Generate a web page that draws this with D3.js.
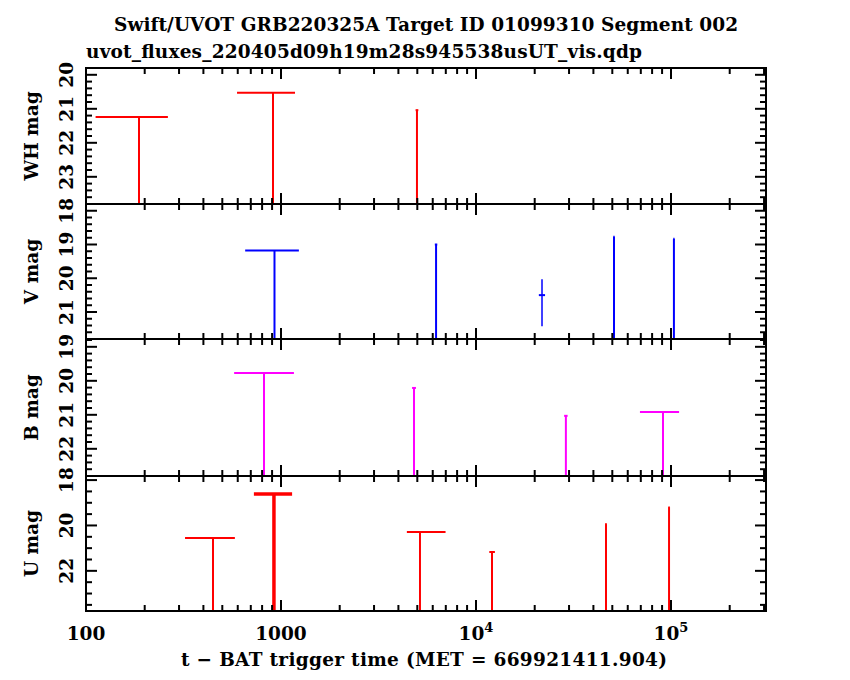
<!DOCTYPE html>
<html><head><meta charset="UTF-8">
<style>body{margin:0;background:#fff}text{font-family:"DejaVu Serif",serif;font-weight:bold}</style>
</head><body>
<svg id="c" width="850" height="680"></svg>
<script src="https://cdnjs.cloudflare.com/ajax/libs/d3/7.8.5/d3.min.js"></script>
<script>
"use strict"
// upper limits (lim=true) drawn as a bar at mag with a line down to the panel floor
const whData = [
  {t: 187, lo: 112, hi: 263, mag: 21.24, lim: true},
  {t: 910, lo: 595, hi: 1180, mag: 20.53, lim: true},
  {t: 4980, lo: 4900, hi: 5060, mag: 21.04, lim: true}
];
const vData = [
  {t: 926, lo: 655, hi: 1235, mag: 19.18, lim: true},
  {t: 6240, lo: 6150, hi: 6330, mag: 19.0, lim: true},
  {t: 21800, lo: 21000, hi: 22600, mag: 20.5, e1: 20.03, e2: 21.42, lim: false},
  {t: 51000, lo: 50600, hi: 51400, mag: 18.77, lim: true},
  {t: 103500, lo: 102800, hi: 104200, mag: 18.83, lim: true}
];
const bData = [
  {t: 818, lo: 575, hi: 1165, mag: 19.77, lim: true},
  {t: 4810, lo: 4700, hi: 4920, mag: 20.21, lim: true},
  {t: 28900, lo: 28300, hi: 29500, mag: 21.03, lim: true},
  {t: 91000, lo: 69300, hi: 110000, mag: 20.92, lim: true}
];
const uData = [
  {t: 448, lo: 322, hi: 580, mag: 20.55, lim: true},
  {t: 920, lo: 726, hi: 1140, mag: 18.61, lim: true, thick: true},
  {t: 5160, lo: 4420, hi: 6980, mag: 20.29, lim: true},
  {t: 12080, lo: 11700, hi: 12500, mag: 21.17, lim: true},
  {t: 46400, lo: 46000, hi: 46800, mag: 19.94, lim: true},
  {t: 97700, lo: 97200, hi: 98200, mag: 19.19, lim: true}
];
const panels = [
  {label: "WH mag", data: whData, color: "#ff0000", dom: [19.8, 23.8], top: 68, bot: 204, major: [20, 21, 22, 23], minor: 0.2},
  {label: "V mag", data: vData, color: "#0000ff", dom: [17.8, 21.8], top: 204, bot: 339, major: [18, 19, 20, 21], minor: 0.2},
  {label: "B mag", data: bData, color: "#ff00ff", dom: [18.77, 22.8], top: 339, bot: 476, major: [19, 20, 21, 22], minor: 0.2},
  {label: "U mag", data: uData, color: "#ff0000", dom: [17.82, 23.77], top: 476, bot: 611, major: [18, 20, 22], minor: 0.5}
];
const xTickLabels = [[100, "100"], [1000, "1000"], [1e4, "10", "4"], [1e5, "10", "5"]];

const svg = d3.select("#c");
const L = 86, R = 766;
const FS = 18.5;
const x = d3.scaleLog().domain([100, 3.07e5]).range([L, R]);
const minorX = [];
for (let d = 100; d < 1e6; d *= 10) for (let k = 1; k < 10; k++) { const v = d * k; if (v <= 3.07e5) minorX.push(v); }

svg.append("text").attr("x", 426).attr("y", 31).attr("text-anchor", "middle").attr("font-size", FS)
  .attr("textLength", 624).text("Swift/UVOT GRB220325A Target ID 01099310 Segment 002");
svg.append("text").attr("x", 86).attr("y", 58).attr("font-size", FS)
  .attr("textLength", 556).text("uvot_fluxes_220405d09h19m28s945538usUT_vis.qdp");

panels.forEach(p => {
  const y = d3.scaleLinear().domain(p.dom).range([p.top, p.bot]);
  const g = svg.append("g");
  p.data.forEach(d => {
    const sw = d.thick ? 3.5 : 2;
    g.append("line").attr("x1", x(d.lo)).attr("x2", x(d.hi)).attr("y1", y(d.mag)).attr("y2", y(d.mag))
      .attr("stroke", p.color).attr("stroke-width", sw);
    if (d.lim) {
      g.append("line").attr("x1", x(d.t)).attr("x2", x(d.t)).attr("y1", y(d.mag)).attr("y2", p.bot)
        .attr("stroke", p.color).attr("stroke-width", sw);
    } else {
      g.append("line").attr("x1", x(d.t)).attr("x2", x(d.t)).attr("y1", y(d.e1)).attr("y2", y(d.e2))
        .attr("stroke", p.color).attr("stroke-width", 1.5);
    }
  });
  g.append("rect").attr("x", L).attr("y", p.top).attr("width", R - L).attr("height", p.bot - p.top)
    .attr("fill", "none").attr("stroke", "#000").attr("stroke-width", 2);
  minorX.forEach(v => {
    const major = Math.abs(Math.log10(v) % 1) < 1e-9;
    const len = major ? 11 : 6;
    g.append("line").attr("x1", x(v)).attr("x2", x(v)).attr("y1", p.top).attr("y2", p.top + len).attr("stroke", "#000").attr("stroke-width", 2);
    g.append("line").attr("x1", x(v)).attr("x2", x(v)).attr("y1", p.bot).attr("y2", p.bot - len).attr("stroke", "#000").attr("stroke-width", 2);
  });
  const lo = Math.ceil(p.dom[0] / p.minor - 1e-6), hi = Math.floor(p.dom[1] / p.minor + 1e-6);
  for (let i = lo; i <= hi; i++) {
    const v = +(i * p.minor).toFixed(2);
    const major = Math.abs(v - Math.round(v)) < 1e-6 && p.major.includes(Math.round(v));
    const len = major ? 11 : 6;
    [[L, 1], [R, -1]].forEach(([x0, s]) => {
      g.append("line").attr("x1", x0).attr("x2", x0 + s * len).attr("y1", y(v)).attr("y2", y(v)).attr("stroke", "#000").attr("stroke-width", 2);
    });
  }
  p.major.forEach(v => {
    g.append("text").attr("transform", `translate(73,${y(v)}) rotate(-90)`).attr("text-anchor", "middle")
      .attr("font-size", FS).text(v);
  });
  g.append("text").attr("transform", `translate(38,${(p.top + p.bot) / 2}) rotate(-90)`).attr("text-anchor", "middle")
    .attr("font-size", FS).text(p.label);
});

xTickLabels.forEach(d => {
  const t = svg.append("text").attr("x", x(d[0])).attr("y", 640).attr("text-anchor", "middle").attr("font-size", FS).text(d[1]);
  if (d[2]) t.append("tspan").attr("dy", -8).attr("font-size", 13).text(d[2]);
});
svg.append("text").attr("x", 424).attr("y", 666).attr("text-anchor", "middle").attr("font-size", FS)
  .attr("textLength", 486).text("t \u2212 BAT trigger time (MET = 669921411.904)");
</script>
</body></html>
